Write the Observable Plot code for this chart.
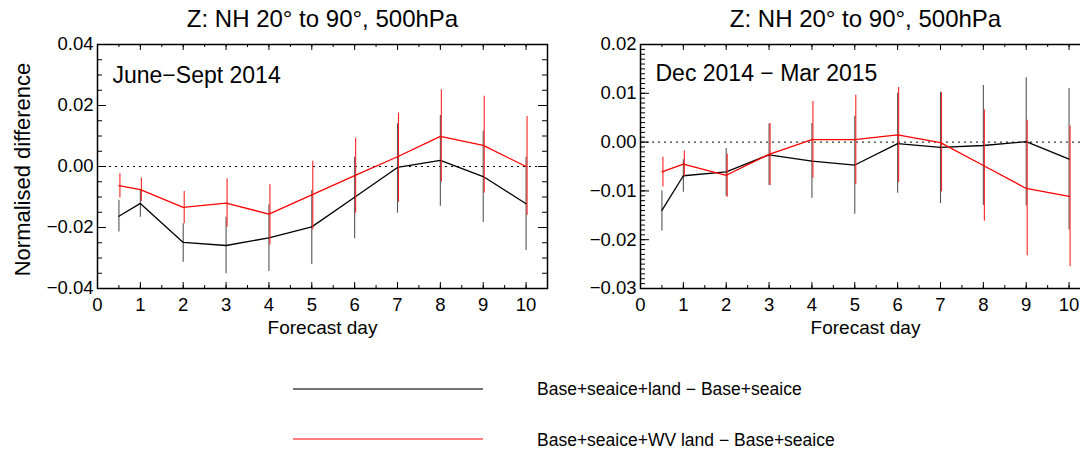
<!DOCTYPE html>
<html><head><meta charset="utf-8">
<script src="https://cdn.jsdelivr.net/npm/d3@7"></script>
<script src="https://cdn.jsdelivr.net/npm/@observablehq/plot@0.6"></script>
<style>
body{margin:0;background:#fff;}
#wrap{position:relative;width:1080px;height:450px;overflow:hidden;font-family:"Liberation Sans",Arial,sans-serif;background:#fff;}
.panel{position:absolute;top:0;width:560px;height:330px;}
.panel svg{max-width:none !important;}
#legsvg{position:absolute;left:0;top:360px;}
.ltext{position:absolute;left:537px;font-size:17.5px;line-height:20px;color:#000;white-space:nowrap;}
</style></head><body>
<div id="wrap">
  <div class="panel" id="p1" style="left:0px"></div>
  <div class="panel" id="p2" style="left:560px"></div>
  <svg id="legsvg" width="1080" height="90"></svg>
  <div class="ltext" id="lt1" style="top:379px"></div>
  <div class="ltext" id="lt2" style="top:430px"></div>
</div>
<script>
// Forecast days
const days = [0.5, 1, 2, 3, 4, 5, 6, 7, 8, 9, 10];
const xTickLabels = [0, 1, 2, 3, 4, 5, 6, 7, 8, 9, 10];
const panelTitle = "Z: NH 20° to 90°, 500hPa";
const seriesNames = ["Base+seaice+land − Base+seaice", "Base+seaice+WV land − Base+seaice"];
const seriesColors = ["#444444", "#ff0000"];

// June–Sept 2014
const sumLand   = [-0.0163,-0.0121,-0.0249,-0.0259,-0.0234,-0.0198,-0.0101,-0.0003, 0.0020,-0.0033,-0.0122];
const sumLandLo = [-0.0215,-0.0166,-0.0314,-0.0352,-0.0344,-0.0321,-0.0237,-0.0153,-0.0130,-0.0184,-0.0275];
const sumLandHi = [-0.0111,-0.0076,-0.0188,-0.0166,-0.0126,-0.0079, 0.0030, 0.0140, 0.0167, 0.0116, 0.0030];
const sumWV     = [-0.0063,-0.0076,-0.0134,-0.0120,-0.0156,-0.0093,-0.0030, 0.0032, 0.0099, 0.0069, 0.0000];
const sumWVLo   = [-0.0103,-0.0115,-0.0188,-0.0199,-0.0257,-0.0208,-0.0153,-0.0117,-0.0051,-0.0087,-0.0161];
const sumWVHi   = [-0.0024,-0.0038,-0.0082,-0.0040,-0.0060, 0.0017, 0.0093, 0.0175, 0.0252, 0.0230, 0.0164];

// Dec 2014 – Mar 2015
const winLand   = [-0.0140,-0.0069,-0.0061,-0.0026,-0.0039,-0.0047,-0.0003,-0.0011,-0.0007, 0.0001,-0.0035];
const winLandLo = [-0.0182,-0.0103,-0.0111,-0.0089,-0.0115,-0.0148,-0.0105,-0.0126,-0.0130,-0.0131,-0.0180];
const winLandHi = [-0.0100,-0.0036,-0.0013, 0.0037, 0.0038, 0.0053, 0.0100, 0.0102, 0.0116, 0.0132, 0.0110];
const winWV     = [-0.0061,-0.0045,-0.0068,-0.0025, 0.0005, 0.0005, 0.0015,-0.0001,-0.0048,-0.0095,-0.0111];
const winWVLo   = [-0.0092,-0.0071,-0.0113,-0.0089,-0.0074,-0.0087,-0.0083,-0.0102,-0.0162,-0.0233,-0.0255];
const winWVHi   = [-0.0031,-0.0018,-0.0025, 0.0038, 0.0083, 0.0096, 0.0112, 0.0101, 0.0066, 0.0045, 0.0033];

const sumYTicks = [-0.04, -0.02, 0.00, 0.02, 0.04];
const winYTicks = [-0.03, -0.02, -0.01, 0.00, 0.01, 0.02];

function panel(o) {
  const rows = days.map((d, i) => ({day: d, land: o.land[i], landLo: o.landLo[i], landHi: o.landHi[i], wv: o.wv[i], wvLo: o.wvLo[i], wvHi: o.wvHi[i]}));
  const W = 560, H = 330, mt = 44, mb = 42;
  const pw = W - o.ml - o.mr, ph = H - mt - mb;
  const xMinor = d3.range(0, 10.51, 0.5);
  const yMinor = d3.range(o.yDomain[0], o.yDomain[1] + o.yStep / 2, o.yStep).map(v => +v.toFixed(4));
  const marks = [
    Plot.ruleY([0], {stroke: "black", strokeWidth: 1, strokeDasharray: "2,4"}),
    Plot.tickY(yMinor, {y: d => d, insetRight: pw - 5, stroke: "black"}),
    Plot.tickY(yMinor, {y: d => d, insetLeft: pw - 5, stroke: "black"}),
    Plot.tickY(o.yTicks, {y: d => d, insetRight: pw - 9, stroke: "black"}),
    Plot.tickY(o.yTicks, {y: d => d, insetLeft: pw - 9, stroke: "black"}),
    Plot.tickX(xMinor, {x: d => d, insetTop: ph - 3, stroke: "black"}),
    Plot.tickX(xMinor, {x: d => d, insetBottom: ph - 3, stroke: "black"}),
    Plot.tickX(xTickLabels, {x: d => d, insetTop: ph - 6, stroke: "black"}),
    Plot.tickX(xTickLabels, {x: d => d, insetBottom: ph - 6, stroke: "black"}),
    Plot.axisY({ticks: o.yTicks, tickSize: 0, tickPadding: 4, tickFormat: d3.format(".2f"), label: null, fontSize: 18.5}),
    Plot.axisX({ticks: xTickLabels, tickSize: 0, tickPadding: 9, label: null, fontSize: 18.5}),
    Plot.ruleX(rows, {x: "day", y1: "landLo", y2: "landHi", stroke: "#555", strokeWidth: 1.1}),
    Plot.line(rows, {x: "day", y: "land", stroke: "black", strokeWidth: 1.3}),
    Plot.ruleX(rows, {x: "day", y1: "wvLo", y2: "wvHi", stroke: "#f22", strokeWidth: 1.1, dx: 1}),
    Plot.line(rows, {x: "day", y: "wv", stroke: "red", strokeWidth: 1.3}),
    Plot.frame({stroke: "black", strokeWidth: 1.5}),
    Plot.text([panelTitle], {frameAnchor: "top", dy: -25, fontSize: 24, lineAnchor: "middle"}),
    Plot.text([o.period], {frameAnchor: "top-left", dx: 15, dy: o.periodDy, fontSize: 23, textAnchor: "start", lineAnchor: "middle"}),
    Plot.text(["Forecast day"], {frameAnchor: "bottom", dy: 39, fontSize: 19, lineAnchor: "middle"})
  ];
  if (o.ylabel) marks.push(Plot.text([o.ylabel], {frameAnchor: "left", rotate: -90, dx: -75, dy: 3, fontSize: 22, textAnchor: "middle", lineAnchor: "middle"}));
  return Plot.plot({
    width: W, height: H, marginLeft: o.ml, marginRight: o.mr, marginTop: mt, marginBottom: mb,
    x: {domain: [0, 10.5], axis: null},
    y: {domain: o.yDomain, axis: null},
    style: {fontFamily: '"Liberation Sans", Arial, sans-serif', fontSize: "18px", color: "black", background: "transparent", overflow: "visible", maxWidth: "none"},
    marks
  });
}

document.getElementById("p1").appendChild(panel({
  land: sumLand, landLo: sumLandLo, landHi: sumLandHi, wv: sumWV, wvLo: sumWVLo, wvHi: sumWVHi,
  yDomain: [-0.04, 0.04], yTicks: sumYTicks, yStep: 0.005, ml: 97, mr: 13,
  period: "June−Sept 2014", periodDy: 31, ylabel: "Normalised difference"
}));
document.getElementById("p2").appendChild(panel({
  land: winLand, landLo: winLandLo, landHi: winLandHi, wv: winWV, wvLo: winWVLo, wvHi: winWVHi,
  yDomain: [-0.03, 0.02], yTicks: winYTicks, yStep: 0.001, ml: 80, mr: 30,
  period: "Dec 2014 − Mar 2015", periodDy: 29, ylabel: null
}));

// legend
const leg = d3.select("#legsvg");
[29, 79].forEach((y, i) => {
  leg.append("line").attr("x1", 293).attr("x2", 483).attr("y1", y).attr("y2", y)
    .attr("stroke", seriesColors[i]).attr("stroke-width", i === 0 ? 1.6 : 1.2);
});
document.getElementById("lt1").textContent = seriesNames[0];
document.getElementById("lt2").textContent = seriesNames[1];
</script>
</body></html>
